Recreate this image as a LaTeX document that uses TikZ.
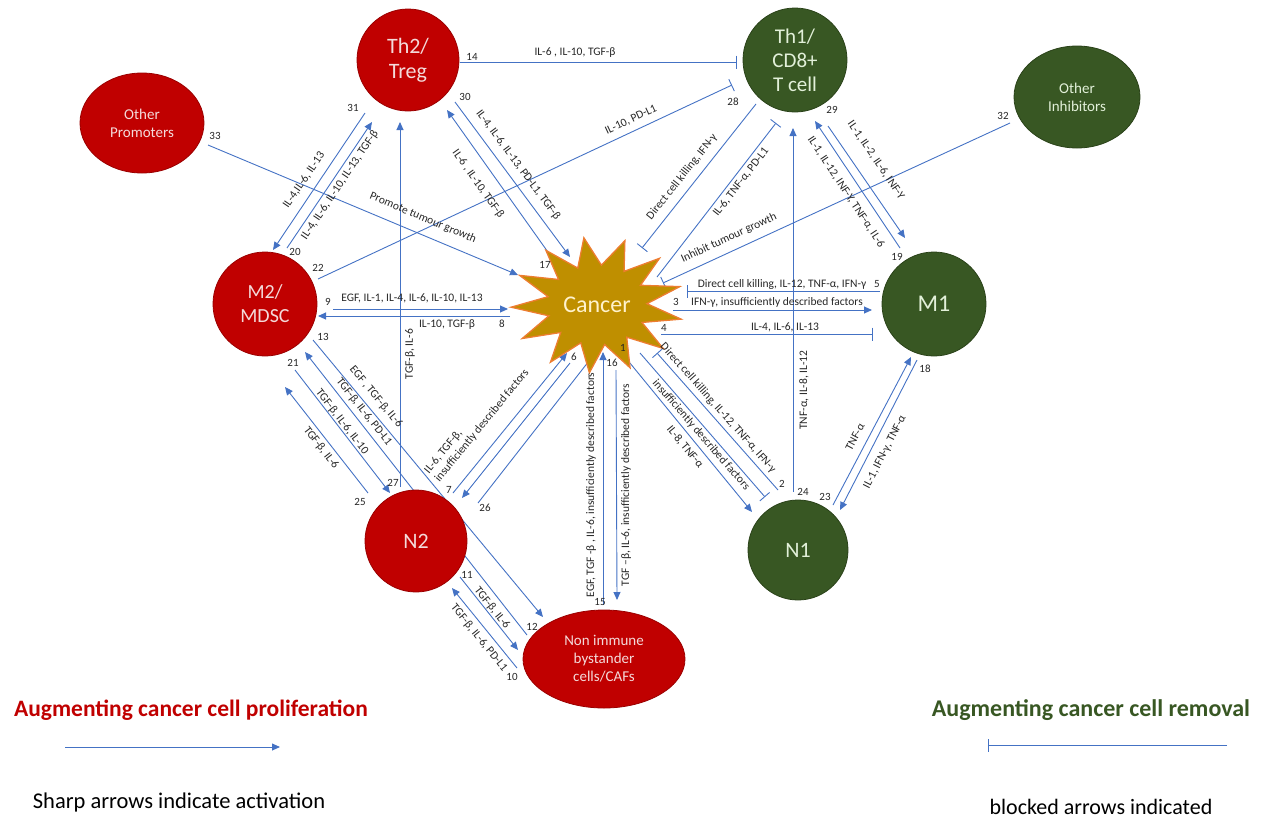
\documentclass[tikz,border=0pt]{standalone}
\usepackage{fontspec}
\setmainfont{Carlito}
\usetikzlibrary{arrows.meta,calc,shapes.geometric}
\definecolor{cred}{HTML}{C00000}
\definecolor{credd}{HTML}{9A0000}
\definecolor{cgreen}{HTML}{385723}
\definecolor{cgreend}{HTML}{2A4219}
\definecolor{lineblue}{HTML}{4472C4}
\definecolor{starfill}{HTML}{BF8F00}
\definecolor{starline}{HTML}{ED7D31}
\definecolor{ctxt}{HTML}{262626}
\definecolor{redtxt}{HTML}{F4DADA}
\definecolor{greentxt}{HTML}{E2F0D9}
\definecolor{cantxt}{HTML}{FFF2CC}
\newcommand\lblfont{\fontsize{11.5}{13.5}\selectfont}
\pgfdeclarelayer{bg}
\pgfsetlayers{bg,main}
\begin{document}
\begin{tikzpicture}[x=1pt,y=-1pt,
  con/.style={draw=lineblue, line width=0.9pt},
  act/.style={con, -{Triangle[length=8pt,width=7pt]}},
  blk/.style={con, -{Bar[width=13pt]}},
  lbl/.style={font=\lblfont, text=ctxt, inner sep=0pt},
  num/.style={font=\fontsize{11}{13}\selectfont, text=ctxt, inner sep=0pt},
  redc/.style={circle, fill=cred, draw=credd, line width=0.8pt, text=redtxt, align=center},
  grnc/.style={circle, fill=cgreen, draw=cgreend, line width=0.8pt, text=greentxt, align=center},
  big/.style={font=\fontsize{22}{25}\selectfont},
  mid/.style={font=\fontsize{15}{18}\selectfont}
]
\useasboundingbox (0,0) rectangle (1264,820);
% cancer star
\filldraw[fill=starfill, draw=starline, line width=1.3pt]
  plot[samples at={0,1,...,25}, variable=\k]
  ({597+((mod(\k,2)==0) ? 86 : 50)*cos(12+\k*360/26)},
   {305+((mod(\k,2)==0) ? 68 : 40)*sin(12+\k*360/26)}) -- cycle;
\node[text=cantxt, font=\fontsize{24}{28}\selectfont] (cancer) at (597,305) {Cancer};
% cells
\node[redc, big, minimum size=102pt] (th2) at (408,60) {Th2/\\Treg};
\node[grnc, big, minimum size=104pt, font=\fontsize{21}{24}\selectfont] (th1) at (795,60) {Th1/\\CD8+\\T cell};
\node[redc, ellipse, mid, minimum width=124pt, minimum height=100pt] (oprom) at (142,123) {Other\\Promoters};
\node[grnc, ellipse, mid, minimum width=126pt, minimum height=102pt] (oinh) at (1077,97) {Other\\Inhibitors};
\node[redc, big, minimum size=104pt, font=\fontsize{20}{24}\selectfont] (m2) at (265,304) {M2/\\MDSC};
\node[grnc, big, minimum size=104pt, font=\fontsize{24}{28}\selectfont] (m1) at (934,304) {M1};
\node[redc, big, minimum size=102pt] (n2) at (416,541) {N2};
\node[grnc, big, minimum size=100pt] (n1) at (798,550) {N1};
\node[redc, ellipse, mid, minimum width=162pt, minimum height=98pt] (nonimm) at (604,659) {Non immune\\bystander\\cells/CAFs};

\begin{pgfonlayer}{bg}
\draw[blk] ($(th2)+(52,2)$) -- ($(th1)+(-58,2)$);        % 14
\draw[blk] ($(m2)+(53,-25)$) -- ($(th1)+(-63,25)$);      % 22
\draw[blk] ($(th1)+(-39,44)$) -- ($(cancer)+(45,-57)$);  % 28
\draw[blk] ($(cancer)+(60,-28)$) -- ($(th1)+(-19,63)$);  % IL-6 TNF
\draw[act] ($(n1)+(-5,-58)$) -- ($(th1)+(-2,68)$);       % 24
\draw[act] ($(th1)+(33,66)$) -- ($(m1)+(-29,-66)$);      % 29
\draw[act] ($(m1)+(-34,-56)$) -- ($(th1)+(20,61)$);      % 19
\draw[blk] ($(oinh)+(-67,26)$) -- ($(cancer)+(66,-22)$); % 32
\draw[act] ($(oprom)+(66,22)$) -- ($(cancer)+(-79,-30)$);% 33
\draw[act] ($(th2)+(47,42)$) -- ($(cancer)+(-27,-48)$);  % 30
\draw[act] ($(cancer)+(-42,-43)$) -- ($(th2)+(39,50)$);  % 17
\draw[act] ($(th2)+(-43,53)$) -- ($(m2)+(8,-54)$);       % 31
\draw[act] ($(m2)+(22,-56)$) -- ($(th2)+(-36,62)$);      % 20
\draw[act] ($(n2)+(-16,-54)$) -- ($(th2)+(-8,62)$);      % 27
\draw[act] ($(m2)+(68,5)$) -- ($(cancer)+(-89,4)$);      % 9
\draw[act] ($(cancer)+(-87,11)$) -- ($(m2)+(53,12)$);    % 8
\draw[blk] ($(m1)+(-54,-13)$) -- ($(cancer)+(90,-14)$);  % 5
\draw[act] ($(cancer)+(76,5)$) -- ($(m1)+(-62,6)$);      % 3
\draw[blk] ($(cancer)+(64,29)$) -- ($(m1)+(-61,30)$);    % 4
\draw[act] ($(cancer)+(28,52)$) -- ($(n1)+(-46,-38)$);   % 1
\draw[blk] ($(cancer)+(43,48)$) -- ($(n1)+(-33,-53)$);   % 1b
\draw[blk] ($(n1)+(-20,-60)$) -- ($(cancer)+(60,48)$);   % 2
\draw[act] ($(m1)+(-17,56)$) -- ($(n1)+(42,-40)$);       % 18
\draw[act] ($(n1)+(35,-45)$) -- ($(m1)+(-23,53)$);       % 23
\draw[act] ($(nonimm)+(-1,-54)$) -- ($(cancer)+(6,47)$); % 15
\draw[act] ($(cancer)+(19,65)$) -- ($(nonimm)+(13,-59)$);% 16
\draw[act] ($(m2)+(48,36)$) -- ($(nonimm)+(-61,-42)$);   % 13
\draw[act] ($(nonimm)+(-77,-24)$) -- ($(m2)+(40,48)$);   % 12
\draw[act] ($(m2)+(30,66)$) -- ($(n2)+(-26,-48)$);       % 21
\draw[act] ($(n2)+(-48,-48)$) -- ($(m2)+(20,83)$);       % 25
\draw[act] ($(n2)+(37,-48)$) -- ($(cancer)+(-30,48)$);   % 7
\draw[act] ($(cancer)+(-27,58)$) -- ($(n2)+(46,-43)$);   % 6
\draw[con] ($(n2)+(62,-38)$) -- ($(cancer)+(6,38)$);     % 26
\draw[act] ($(n2)+(44,36)$) -- ($(nonimm)+(-86,-9)$);    % 11
\draw[act] ($(nonimm)+(-87,9)$) -- ($(n2)+(36,47)$);     % 10
\end{pgfonlayer}

% labels
\node[lbl] (l14) at (575,53) {IL-6 , IL-10, TGF-β};
\node[num] (n14) at (472,57) {14};
\node[lbl, rotate=25] (l22) at (631,120) {IL-10, PD-L1};
\node[num] (n22) at (318,268) {22};
\node[lbl, rotate=51.6] (l28) at (682,177) {Direct cell killing, IFN-γ};
\node[num] (n28) at (733,102) {28};
\node[lbl, rotate=52.3] (ltc) at (741,182) {IL-6, TNF-α, PD-L1};
\node[lbl, rotate=90] (l24) at (804,390) {TNF-α, IL-8, IL-12};
\node[num] (n24) at (803,492) {24};
\node[lbl, rotate=-55.5] (l29) at (876,160) {IL-1, IL-2, IL-6, INF-Υ};
\node[num] (n29) at (832,110) {29};
\node[lbl, rotate=-56.4] (l19) at (846,192) {IL-1, IL-12, INF-Υ, TNF-α, IL-6};
\node[num] (n19) at (897,257) {19};
\node[lbl, rotate=24.7] (l32) at (729,238) {Inhibit tumour growth};
\node[num] (n32) at (1003,116) {32};
\node[lbl, rotate=-22.8] (l33) at (423,218) {Promote tumour growth};
\node[num] (n33) at (215,136) {33};
\node[lbl, rotate=-53.4] (l30) at (518,165) {IL-4, IL-6, IL-13, PD-L1, TGF-β};
\node[num] (n30) at (465,97) {30};
\node[lbl, rotate=-54.6] (l17) at (478,184) {IL-6 , IL-10, TGF-β};
\node[num] (n17) at (545,265) {17};
\node[lbl, rotate=55.7] (l31) at (304,180) {IL-4,IL-6, IL-13};
\node[num] (n31) at (353,108) {31};
\node[lbl, rotate=56] (l20) at (340,185) {IL-4, IL-6, IL-10, IL-13, TGF-β};
\node[num] (n20) at (295,252) {20};
\node[lbl, rotate=90] (l27) at (410,354) {TGF-β, IL-6};
\node[num] (n27) at (393,483) {27};
\node[lbl] (l9) at (412,298) {EGF, IL-1, IL-4, IL-6, IL-10, IL-13};
\node[num] (n9) at (328,302) {9};
\node[lbl] (l8) at (447,325) {IL-10, TGF-β};
\node[num] (n8) at (502,324) {8};
\node[lbl] (l5) at (782,284) {Direct cell killing, IL-12, TNF-α, IFN-γ};
\node[num] (n5) at (877,284) {5};
\node[lbl] (l3) at (777,302) {IFN-γ, insufficiently described factors};
\node[num] (n3) at (676,302) {3};
\node[lbl] (l4) at (785,327) {IL-4, IL-6, IL-13};
\node[num] (n4) at (664,328) {4};
\node[lbl, rotate=-50.7] (l1) at (685,447) {IL-8, TNF-α};
\node[num] (n1l) at (623,348) {1};
\node[lbl, rotate=-49] (l1b) at (701,435) {insufficiently described factors};
\node[lbl, rotate=-48.5] (l2) at (718,408) {Direct cell killing, IL-12, TNF-α, IFN-γ};
\node[num] (n2l) at (782,484) {2};
\node[lbl, rotate=62.8] (l18) at (885,452) {IL-1, IFN-γ, TNF-α};
\node[num] (n18) at (925,369) {18};
\node[lbl, rotate=62.2] (l23) at (855,437) {TNF-α};
\node[num] (n23) at (825,497) {23};
\node[lbl, rotate=90] (l15) at (591,485) {EGF, TGF -β , IL-6, insufficiently described factors};
\node[num] (n15) at (600,602) {15};
\node[lbl, rotate=90] (l16) at (626,485) {TGF –β, IL-6, insufficiently described factors};
\node[num] (n16) at (612,363) {16};
\node[lbl, rotate=-50.3] (l13) at (376,397) {EGF , TGF-β, IL-6};
\node[num] (n13) at (323,337) {13};
\node[lbl, rotate=-52] (l12) at (364,412) {TGF-β, IL-6, PD-L1};
\node[num] (n12) at (532,627) {12};
\node[lbl, rotate=-52.3] (l21) at (342,422) {TGF-β, IL-6, IL-10};
\node[num] (n21) at (293,363) {21};
\node[lbl, rotate=-52] (l25) at (321,448) {TGF-β, IL-6};
\node[num] (n25) at (360,502) {25};
\node[lbl, rotate=50.8, anchor=south west, align=left] (l7) at (441,484) {IL-6, TGF-β,\\insufficiently described factors};
\node[num] (n7) at (449,490) {7};
\node[num] (n6) at (574,357) {6};
\node[num] (n26) at (485,508) {26};
\node[lbl, rotate=-51.5] (l11) at (492,608) {TGF-β, IL-6};
\node[num] (n11) at (467,575) {11};
\node[lbl, rotate=-51] (l10) at (479,638) {TGF-β, IL-6, PD-L1};
\node[num] (n10) at (512,677) {10};

% legend
\node[font=\bfseries\fontsize{23.5}{27}\selectfont, text=cred] (lg1) at (191,710) {Augmenting cancer cell proliferation};
\node[font=\fontsize{22.5}{26}\selectfont, text=black] (lg2) at (179,802) {Sharp arrows indicate activation};
\node[font=\bfseries\fontsize{24}{28}\selectfont, text=cgreen] (lg3) at (1091,710) {Augmenting cancer cell removal};
\node[font=\fontsize{22}{26}\selectfont, text=black] (lg4) at (1101,807) {blocked arrows indicated};
\coordinate (la1) at (65,747);
\coordinate (la2) at (280,747);
\coordinate (lb1) at (1227,745);
\coordinate (lb2) at (988,745);
\draw[act] (la1) -- (la2);
\draw[blk] (lb1) -- (lb2);
\end{tikzpicture}
\end{document}
